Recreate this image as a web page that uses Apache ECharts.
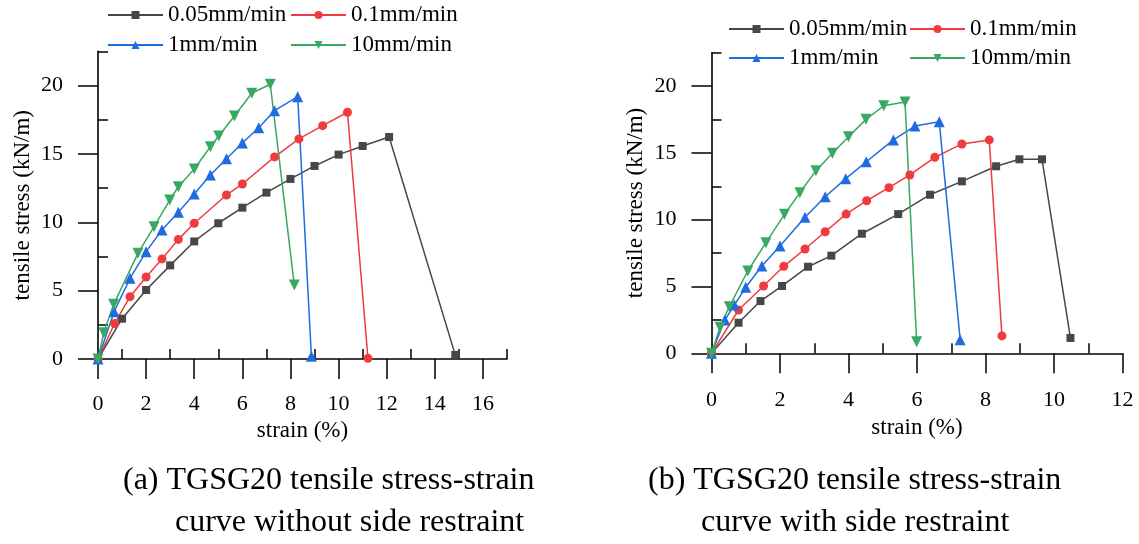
<!DOCTYPE html>
<html>
<head>
<meta charset="utf-8">
<script src="https://cdn.jsdelivr.net/npm/echarts@6/dist/echarts.min.js"></script>
<style>html,body{margin:0;padding:0;background:#fff}#c{width:1139px;height:544px}</style>
</head>
<body>
<div id="c"></div>
<script>
// ---- data (strain %, tensile stress kN/m) ----
const seriesNames = ['0.05mm/min', '0.1mm/min', '1mm/min', '10mm/min'];

// (a) without side restraint
const a_005 = [[0,0],[1.0,2.95],[2.0,5.05],[3.0,6.85],[4.0,8.6],[5.0,9.93],[6.0,11.07],[7.0,12.17],[8.0,13.17],[9.0,14.12],[10.0,14.95],[11.0,15.58],[12.1,16.24],[14.85,0.3]];
const a_01  = [[0,0],[0.69,2.6],[1.33,4.56],[2.0,6.0],[2.66,7.32],[3.34,8.75],[4.0,9.93],[5.34,12.0],[6.0,12.8],[7.34,14.78],[8.35,16.1],[9.34,17.07],[10.37,18.05],[11.22,0.05]];
const a_1   = [[0,0],[0.67,3.46],[1.33,5.9],[2.0,7.85],[2.66,9.44],[3.34,10.73],[4.0,12.07],[4.67,13.46],[5.34,14.65],[6.0,15.8],[6.68,16.92],[7.34,18.16],[8.3,19.19],[8.87,0.2]];
const a_10  = [[0,0],[0.24,1.92],[0.65,4.0],[1.66,7.73],[2.33,9.68],[2.98,11.63],[3.34,12.6],[4.0,13.9],[4.67,15.53],[5.02,16.31],[5.67,17.78],[6.39,19.44],[7.16,20.1],[8.16,5.41]];

// (b) with side restraint
const b_005 = [[0,0],[0.79,2.29],[1.43,3.91],[2.06,5.04],[2.82,6.48],[3.5,7.31],[4.39,8.95],[5.45,10.42],[6.38,11.87],[7.31,12.87],[8.31,14.0],[8.99,14.52],[9.65,14.52],[10.48,1.15]];
const b_01  = [[0,0],[0.79,3.24],[1.52,5.04],[2.11,6.51],[2.73,7.81],[3.32,9.1],[3.93,10.42],[4.53,11.42],[5.18,12.4],[5.79,13.35],[6.52,14.67],[7.31,15.67],[8.11,15.97],[8.48,1.3]];
const b_1   = [[0,0],[0.39,2.49],[0.67,3.62],[1.0,4.94],[1.47,6.53],[2.0,8.03],[2.73,10.18],[3.32,11.72],[3.92,13.07],[4.52,14.34],[5.31,15.97],[5.94,17.01],[6.65,17.34],[7.26,1.02]];
const b_10  = [[0,0],[0.25,1.95],[0.52,3.49],[1.06,6.16],[1.59,8.28],[2.13,10.4],[2.58,12.02],[3.05,13.67],[3.53,14.97],[4.0,16.21],[4.51,17.51],[5.03,18.53],[5.65,18.81],[5.99,0.87]];

// ---- tick labels ----
const aXMajor = [0,2,4,6,8,10,12,14,16];
const aXMinor = [1,3,5,7,9,11,13,15,17];
const bXMajor = [0,2,4,6,8,10,12];
const bXMinor = [1,3,5,7,9,11];
const yMajor = [0,5,10,15,20];
const yMinor = [2.5,7.5,12.5,17.5,22.5];

const captionA = ['(a) TGSG20 tensile stress-strain', 'curve without side restraint'];
const captionB = ['(b) TGSG20 tensile stress-strain', 'curve with side restraint'];
const xTitle = 'strain (%)';
const yTitle = 'tensile stress (kN/m)';

// ---- styles ----
const FONT = 'Liberation Serif';
const colors = ['#474747', '#EF3B3D', '#1F6BE0', '#38A862'];
const symbols = ['rect', 'circle', 'triangle', 'path://M0,0 L10,0 L5,8.7 Z'];
const symSizes = [8, 9, 11, 11];

const chart = echarts.init(document.getElementById('c'));

function mainX(gi, max, major) {
  return {
    type: 'value', gridIndex: gi, min: 0, max: max, interval: 2,
    name: xTitle, nameLocation: 'middle', nameGap: gi === 0 ? 60 : 62,
    nameTextStyle: { fontFamily: FONT, fontSize: 23, color: '#000' },
    axisLine: { show: true, onZero: false, lineStyle: { color: '#000', width: 1.6 } },
    axisTick: { show: true, inside: false, length: 20, customValues: major, lineStyle: { color: '#000', width: 1.5 } },
    axisLabel: { show: true, customValues: major, margin: gi === 0 ? 34 : 36, fontFamily: FONT, fontSize: 22, color: '#000' },
    splitLine: { show: false }
  };
}
function minorX(gi, max, minor) {
  return {
    type: 'value', gridIndex: gi, min: 0, max: max, interval: 1,
    axisLine: { show: false },
    axisTick: { show: true, inside: false, length: 10, customValues: minor, lineStyle: { color: '#000', width: 1.5 } },
    axisLabel: { show: false },
    splitLine: { show: false }
  };
}
function mainY(gi) {
  return {
    type: 'value', gridIndex: gi, min: 0, max: 22.5, interval: 5,
    name: yTitle, nameLocation: 'middle', nameGap: 64, nameRotate: 90,
    nameTextStyle: { fontFamily: FONT, fontSize: 23, color: '#000' },
    axisLine: { show: true, onZero: false, lineStyle: { color: '#000', width: 1.6 } },
    axisTick: { show: true, inside: false, length: 20, customValues: yMajor, lineStyle: { color: '#000', width: 1.5 } },
    axisLabel: { show: true, customValues: yMajor, margin: 35, fontFamily: FONT, fontSize: 22, color: '#000' },
    splitLine: { show: false }
  };
}
function minorY(gi) {
  return {
    type: 'value', gridIndex: gi, min: 0, max: 22.5, interval: 2.5,
    axisLine: { show: false },
    axisTick: { show: true, inside: false, length: 10, customValues: yMinor, lineStyle: { color: '#000', width: 1.5 } },
    axisLabel: { show: false },
    splitLine: { show: false }
  };
}

function mkSeries(name, idx, data, gi) {
  return {
    name: name, type: 'line', data: data,
    xAxisIndex: gi * 2, yAxisIndex: gi * 2,
    symbol: symbols[idx], symbolSize: symSizes[idx],
    showAllSymbol: true,
    lineStyle: { color: colors[idx], width: 1.5 },
    itemStyle: { color: colors[idx] },
    animation: false, z: 3
  };
}

function legendItem(name, left, top) {
  return {
    data: [name], left: left, top: top, padding: 0,
    itemWidth: 55, itemHeight: 10, selectedMode: false,
    textStyle: { fontFamily: FONT, fontSize: 23, color: '#000', lineHeight: 24 }
  };
}

function caption(lines, x1, x2) {
  return [
    { type: 'text', left: x1, top: 465, style: { text: lines[0], font: '32px "' + FONT + '"', fill: '#000' } },
    { type: 'text', left: x2, top: 507, style: { text: lines[1], font: '32px "' + FONT + '"', fill: '#000' } }
  ];
}

const aSets = [a_005, a_01, a_1, a_10];
const bSets = [b_005, b_01, b_1, b_10];
const series = [];
seriesNames.forEach((n, i) => series.push(mkSeries(n, i, aSets[i], 0)));
seriesNames.forEach((n, i) => series.push(mkSeries(n, i, bSets[i], 1)));

chart.setOption({
  backgroundColor: '#fff',
  animation: false,
  grid: [
    { left: 98, top: 51.4, width: 409, height: 307.6 },
    { left: 711.5, top: 52.7, width: 411, height: 300.6 }
  ],
  xAxis: [mainX(0, 17, aXMajor), minorX(0, 17, aXMinor), mainX(1, 12, bXMajor), minorX(1, 12, bXMinor)],
  yAxis: [mainY(0), minorY(0), mainY(1), minorY(1)],
  legend: [
    legendItem(seriesNames[0], 107, 3),
    legendItem(seriesNames[1], 290, 3),
    legendItem(seriesNames[2], 107, 33),
    legendItem(seriesNames[3], 290, 33),
    legendItem(seriesNames[0], 728, 17),
    legendItem(seriesNames[1], 909, 17),
    legendItem(seriesNames[2], 728, 46),
    legendItem(seriesNames[3], 909, 46)
  ],
  graphic: caption(captionA, 123, 175).concat(caption(captionB, 648, 701)),
  series: series
});
</script>
</body>
</html>
